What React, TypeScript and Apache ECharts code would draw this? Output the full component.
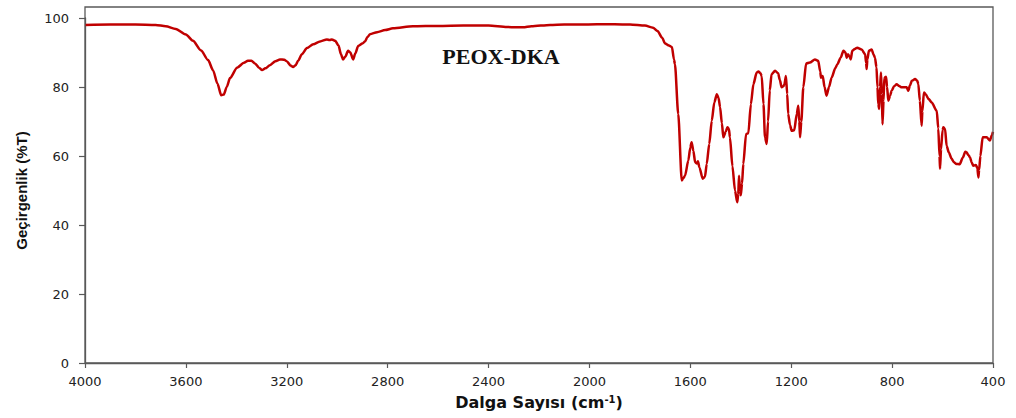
import React, { useEffect, useRef } from "react";
import * as echarts from "echarts";

// ---- Data ----
const chartTitle = "PEOX-DKA";
const xAxisTitle = "Dalga Sayısı (cm";
const xAxisTitleSup = "-1";
const yAxisTitle = "Geçirgenlik (%T)";

const xTickValues = [4000, 3600, 3200, 2800, 2400, 2000, 1600, 1200, 800, 400];
const yTickValues = [0, 20, 40, 60, 80, 100];

const wavenumbers = [
  4000, 3900, 3800, 3720, 3680, 3640, 3600, 3572, 3540, 3512, 3492, 3475, 3460, 3450, 3438, 3425,
  3397, 3370, 3354, 3340, 3326, 3310, 3298, 3285, 3267, 3245, 3227, 3210, 3199, 3185, 3175, 3165,
  3155, 3140, 3120, 3095, 3068, 3041, 3030, 3021, 3008, 2995, 2985, 2977, 2968, 2957, 2948, 2937,
  2928, 2917, 2900, 2890, 2880, 2870, 2842, 2810, 2779, 2700, 2600, 2500, 2400, 2327, 2290, 2263,
  2230, 2156, 2100, 2040, 1970, 1900, 1839, 1780, 1748, 1730, 1712, 1700, 1685, 1673, 1665, 1661,
  1648, 1634, 1628, 1621, 1608, 1600, 1595, 1588, 1581, 1574, 1570, 1564, 1551, 1542, 1535, 1525,
  1515, 1505, 1495, 1488, 1482, 1475, 1469, 1460, 1453, 1447, 1443, 1433, 1423, 1414, 1410, 1407,
  1403, 1400, 1395, 1390, 1379, 1370, 1360, 1350, 1337, 1330, 1322, 1317, 1310, 1304, 1297, 1292,
  1285, 1278, 1264, 1252, 1245, 1238, 1230, 1227, 1221, 1216, 1212, 1205, 1198, 1188, 1178, 1172,
  1168, 1165, 1160, 1152, 1141, 1126, 1106, 1093, 1085, 1082, 1075, 1068, 1060, 1050, 1040, 1025,
  1017, 1004, 993, 985, 980, 975, 970, 964, 958, 948, 938, 921, 907, 903, 901, 898,
  892, 881, 874, 868, 862, 858, 855, 851, 848, 844, 841, 838, 834, 831, 824, 820,
  815, 808, 802, 792, 782, 772, 762, 750, 742, 736, 729, 722, 709, 700, 696, 690,
  683, 680, 674, 667, 655, 643, 623, 617, 612, 610, 606, 600, 597, 590, 584, 575,
  564, 555, 545, 532, 520, 510, 505, 498, 491, 485, 478, 468, 462, 458, 455, 450,
  441, 425, 412, 405, 400,
];

const transmittance = [
  98.0, 98.1, 98.1, 98.0, 97.6, 96.8, 95.2, 93.4, 90.6, 87.8, 84.8, 81.0, 77.6, 77.8, 80.0, 82.6,
  85.6, 87.0, 87.6, 87.6, 86.8, 85.6, 84.9, 85.4, 86.3, 87.5, 88.0, 87.9, 87.4, 86.2, 85.8, 86.3,
  87.6, 89.5, 91.3, 92.4, 93.2, 93.8, 93.6, 93.8, 93.4, 92.0, 89.5, 88.0, 88.8, 90.5, 90.0, 88.0,
  89.8, 91.9, 92.6, 93.2, 94.5, 95.3, 95.9, 96.5, 97.0, 97.6, 97.7, 97.8, 97.8, 97.4, 97.3, 97.3,
  97.6, 98.0, 98.1, 98.1, 98.2, 98.2, 98.1, 97.8, 97.2, 96.2, 94.3, 92.6, 92.0, 91.6, 88.0, 86.6,
  72.2, 52.9, 53.5, 54.3, 58.7, 62.5, 64.0, 61.5, 58.2, 57.8, 58.5, 56.7, 53.4, 54.0, 57.7, 63.5,
  70.2, 75.5, 77.9, 76.8, 74.1, 69.5, 65.4, 67.0, 68.3, 67.8, 65.4, 57.0, 50.0, 46.6, 49.0, 54.3,
  50.0, 48.6, 52.0, 57.7, 66.4, 66.6, 75.0, 80.8, 84.2, 84.5, 84.0, 83.2, 75.0, 65.4, 63.5, 70.0,
  79.0, 83.7, 84.7, 84.0, 82.0, 79.9, 80.3, 80.8, 83.2, 78.0, 72.2, 69.0, 67.3, 67.5, 72.2, 74.6,
  70.0, 65.4, 70.0, 79.9, 86.8, 87.1, 88.0, 87.6, 84.5, 82.7, 83.2, 80.0, 77.5, 80.0, 82.7, 85.5,
  86.6, 88.5, 90.5, 90.0, 88.5, 89.5, 89.0, 88.0, 90.5, 91.0, 91.4, 90.9, 89.5, 87.0, 85.2, 88.0,
  90.5, 90.9, 89.5, 88.5, 85.7, 80.0, 75.0, 73.6, 80.0, 84.2, 78.0, 69.2, 76.0, 82.7, 83.0, 80.0,
  76.0, 77.5, 78.9, 80.2, 80.8, 80.3, 79.9, 79.9, 79.9, 78.9, 80.5, 81.8, 82.3, 81.8, 80.8, 76.0,
  68.8, 73.0, 78.4, 77.9, 76.5, 75.5, 73.1, 68.0, 60.0, 56.3, 62.0, 67.5, 68.3, 67.8, 63.0, 61.0,
  59.2, 58.2, 57.7, 57.6, 59.5, 61.2, 61.1, 60.3, 59.6, 58.2, 57.2, 57.4, 56.5, 53.8, 56.0, 60.0,
  65.4, 65.4, 64.5, 66.0, 67.0,
];

// ---- Layout ----
const WIDTH = 1016;
const HEIGHT = 418;
const GRID = { left: 85, right: 23, top: 18, bottom: 55 };
const FRAME_TOP = 7;
const AXIS_COLOR = "#595959";
const LINE_COLOR = "#C00000";
const TICK_FONT = "'DejaVu Sans', Verdana, sans-serif";
const TITLE_FONT = "'Liberation Sans', Arial, sans-serif";

export default function App() {
  const ref = useRef<HTMLDivElement>(null);

  useEffect(() => {
    if (!ref.current) return;
    const chart = echarts.init(ref.current, undefined, { renderer: "svg" });
    const data = wavenumbers.map((w, i) => [w, transmittance[i]]);
    const xStep = xTickValues[0] - xTickValues[1];
    const yStep = yTickValues[1] - yTickValues[0];

    chart.setOption({
      animation: false,
      backgroundColor: "#ffffff",
      grid: { ...GRID, containLabel: false },
      xAxis: {
        type: "value",
        inverse: true,
        min: Math.min(...xTickValues),
        max: Math.max(...xTickValues),
        interval: xStep,
        name: `{main|${xAxisTitle}}{sup|${xAxisTitleSup}}{main|)}`,
        nameLocation: "middle",
        nameGap: 31,
        nameTextStyle: {
          rich: {
            main: { fontFamily: TICK_FONT, fontWeight: "bold", fontSize: 16, color: "#111" },
            sup: {
              fontFamily: TICK_FONT,
              fontWeight: "bold",
              fontSize: 10,
              color: "#111",
              verticalAlign: "top",
              padding: [0, 0, 7, 0],
            },
          },
        },
        axisLine: { show: true, onZero: false, lineStyle: { color: AXIS_COLOR, width: 1.3 } },
        axisTick: { show: true, inside: false, length: 5, lineStyle: { color: AXIS_COLOR, width: 1.2 } },
        axisLabel: {
          margin: 12,
          fontFamily: TICK_FONT,
          fontSize: 13,
          color: "#222",
          formatter: (v: number) => String(v),
        },
        splitLine: { show: false },
      },
      yAxis: {
        type: "value",
        min: Math.min(...yTickValues),
        max: Math.max(...yTickValues),
        interval: yStep,
        name: yAxisTitle,
        nameLocation: "middle",
        nameGap: 56,
        nameRotate: 90,
        nameTextStyle: { fontFamily: TITLE_FONT, fontWeight: "bold", fontSize: 15, color: "#111" },
        axisLine: { show: true, onZero: false, lineStyle: { color: AXIS_COLOR, width: 1.3 } },
        axisTick: { show: true, inside: false, length: 6, lineStyle: { color: AXIS_COLOR, width: 1.2 } },
        axisLabel: {
          margin: 16,
          fontFamily: TICK_FONT,
          fontSize: 13,
          color: "#222",
          formatter: (v: number) => String(v),
        },
        splitLine: { show: false },
      },
      graphic: [
        {
          type: "rect",
          silent: true,
          shape: {
            x: GRID.left,
            y: FRAME_TOP,
            width: WIDTH - GRID.left - GRID.right,
            height: HEIGHT - GRID.bottom - FRAME_TOP,
          },
          style: { fill: "none", stroke: AXIS_COLOR, lineWidth: 1.3 },
          z: 10,
        },
        {
          type: "text",
          silent: true,
          x: 501,
          y: 56,
          style: {
            text: chartTitle,
            fill: "#111",
            font: "bold 22px 'Liberation Serif', 'Times New Roman', serif",
            textAlign: "center",
            textVerticalAlign: "middle",
          },
          z: 10,
        },
      ],
      series: [
        {
          type: "line",
          data,
          showSymbol: false,
          smooth: 0.25,
          smoothMonotone: "x",
          lineStyle: { color: LINE_COLOR, width: 2.5 },
          itemStyle: { color: LINE_COLOR },
          clip: false,
        },
      ],
    });

    return () => chart.dispose();
  }, []);

  return (
    <div
      ref={ref}
      style={{ position: "fixed", left: 0, top: 0, width: WIDTH, height: HEIGHT, background: "#fff" }}
    />
  );
}
